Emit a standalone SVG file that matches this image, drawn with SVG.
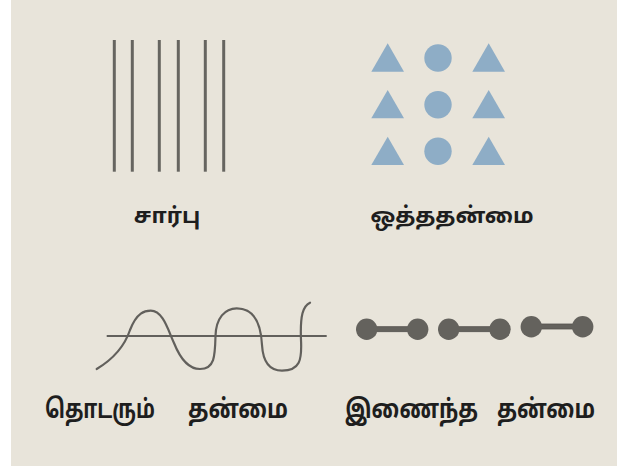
<svg xmlns="http://www.w3.org/2000/svg" width="619" height="469" viewBox="0 0 619 469">
  <style>
    .bar { stroke: #666560; stroke-width: 3; }
    .shape { fill: #8EADC6; }
    .db { fill: #64625D; }
    .wave { fill: none; stroke: #62605C; stroke-width: 2.2; stroke-linecap: round; }
    .lbl { font-family: "Noto Sans Tamil", "Lohit Tamil", "Noto Sans", "DejaVu Sans", sans-serif; font-weight: bold; font-size: 22px; fill: #1E1E1E; text-anchor: middle; }
    .lbl2 { font-family: "Noto Sans Tamil", "Lohit Tamil", "Noto Sans", "DejaVu Sans", sans-serif; font-weight: bold; font-size: 26px; fill: #1E1E1E; }
  </style>
  <rect x="0" y="0" width="619" height="469" fill="#ffffff"/>
  <rect x="11" y="0" width="606" height="466" fill="#E8E4DA"/>

  <g id="sarbu">
    <line class="bar" x1="114.3" y1="40" x2="114.3" y2="171.7"/>
    <line class="bar" x1="132.3" y1="40" x2="132.3" y2="171.7"/>
    <line class="bar" x1="159.3" y1="40" x2="159.3" y2="171.7"/>
    <line class="bar" x1="178.3" y1="40" x2="178.3" y2="171.7"/>
    <line class="bar" x1="205.3" y1="40" x2="205.3" y2="171.7"/>
    <line class="bar" x1="223.7" y1="40" x2="223.7" y2="171.7"/>
    <text class="lbl" x="167" y="223">சார்பு</text>
  </g>

  <g id="oththathanmai">
    <polygon class="shape" points="387.7,43.3 404,71.7 371.3,71.7"/>
    <circle class="shape" cx="438" cy="58" r="13.7"/>
    <polygon class="shape" points="488.7,43.3 505,71.7 472.3,71.7"/>
    <polygon class="shape" points="387.7,90 404,118.3 371.3,118.3"/>
    <circle class="shape" cx="438" cy="104.7" r="13.7"/>
    <polygon class="shape" points="488.7,90 505,118.3 472.3,118.3"/>
    <polygon class="shape" points="387.7,136.7 404,165 371.3,165"/>
    <circle class="shape" cx="438" cy="151.3" r="13.7"/>
    <polygon class="shape" points="488.7,136.7 505,165 472.3,165"/>
    <text class="lbl" x="452" y="223">ஒத்ததன்மை</text>
  </g>

  <g id="thodarum">
    <line x1="106.7" y1="336" x2="326.7" y2="336" stroke="#62605C" stroke-width="2.2"/>
    <path class="wave" d="M96.7,369 C115,358 125,345 130,330 C137,312 145,310.7 150.7,310.7 C163,310.7 168,330 174,343 C180,358 188,369 200,369 C215,369 215,355 215.5,336 C216,318 225,308.3 236.7,308.3 C255,308.3 261,325 262,345 C263,362 270,370.7 282,370.7 C300,370.7 302,360 301,340 C300,315 303,306 310,302.7"/>
    <text class="lbl2" x="45" y="418" textLength="110" lengthAdjust="spacingAndGlyphs">தொடரும்</text>
    <text class="lbl2" x="188" y="418" textLength="100" lengthAdjust="spacingAndGlyphs">தன்மை</text>
  </g>

  <g id="inaindha">
    <rect class="db" x="363.3" y="326.7" width="60" height="5" stroke="#55534F" stroke-width="0.8"/>
    <circle class="db" cx="366.7" cy="329.3" r="10.7"/>
    <circle class="db" cx="417.7" cy="329.3" r="10.7"/>
    <rect class="db" x="444.7" y="326.7" width="60" height="5" stroke="#55534F" stroke-width="0.8"/>
    <circle class="db" cx="448.7" cy="329.3" r="10.7"/>
    <circle class="db" cx="500" cy="329.3" r="10.7"/>
    <rect class="db" x="528" y="324" width="60" height="5" stroke="#55534F" stroke-width="0.8"/>
    <circle class="db" cx="531.3" cy="326.7" r="10.7"/>
    <circle class="db" cx="582.7" cy="326.7" r="10.7"/>
    <text class="lbl2" x="345" y="418" textLength="133" lengthAdjust="spacingAndGlyphs">இணைந்த</text>
    <text class="lbl2" x="497" y="418" textLength="98" lengthAdjust="spacingAndGlyphs">தன்மை</text>
  </g>
</svg>
